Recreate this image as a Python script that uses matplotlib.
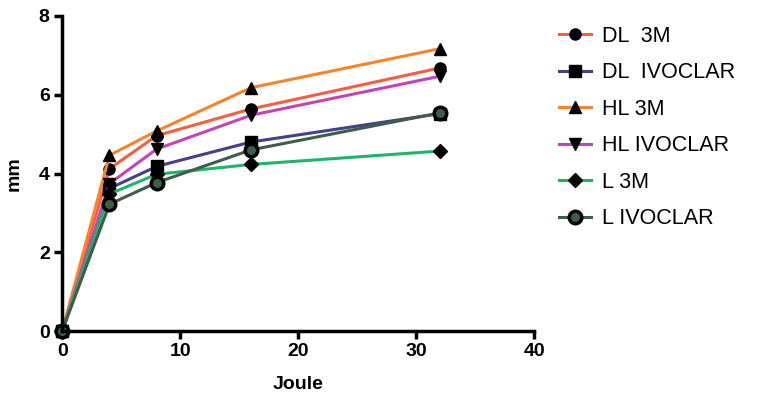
import matplotlib.pyplot as plt

plt.rcParams['font.family'] = ['Liberation Sans', 'DejaVu Sans']

joule = [0, 4, 8, 16, 32]

dl_3m = [0, 4.12, 4.96, 5.64, 6.68]
dl_ivoclar = [0, 3.62, 4.18, 4.80, 5.52]
hl_3m = [0, 4.46, 5.08, 6.18, 7.17]
hl_ivoclar = [0, 3.74, 4.62, 5.48, 6.47]
l_3m = [0, 3.48, 3.98, 4.23, 4.57]
l_ivoclar = [0, 3.22, 3.77, 4.60, 5.54]

labels = ['DL  3M', 'DL  IVOCLAR', 'HL 3M', 'HL IVOCLAR', 'L 3M', 'L IVOCLAR']
series = [dl_3m, dl_ivoclar, hl_3m, hl_ivoclar, l_3m, l_ivoclar]
colors = ['#f2603f', '#453f8f', '#f7832a', '#c444b8', '#1fb46a', '#3f5e4a']
markers = ['o', 's', '^', 'v', 'D', 'o']

fig = plt.figure(figsize=(7.59, 4.0), dpi=100)
ax = fig.add_axes([0.082, 0.1725, 0.622, 0.7875])

for vals, lab, col, mk in zip(series, labels, colors, markers):
    if lab == 'L IVOCLAR':
        ax.plot(joule, vals, color=col, lw=2.2, marker=mk, ms=9,
                mfc=col, mec='black', mew=2.5, label=lab)
    else:
        ms = 7 if mk == 'D' else 8
        ax.plot(joule, vals, color=col, lw=2.2, marker=mk, ms=ms,
                mfc='black', mec='black', label=lab)

ax.set_xlim(0, 40)
ax.set_ylim(0, 8)
ax.set_xticks([0, 10, 20, 30, 40])
ax.set_yticks([0, 2, 4, 6, 8])
for s in ['top', 'right']:
    ax.spines[s].set_visible(False)
for s in ['left', 'bottom']:
    ax.spines[s].set_linewidth(2.5)
ax.tick_params(width=2.5, length=6, labelsize=14, pad=3)
for t in ax.get_xticklabels() + ax.get_yticklabels():
    t.set_fontweight('bold')
ax.set_xlabel('Joule', fontsize=14, fontweight='bold', labelpad=11)
ax.set_ylabel('mm', fontsize=14, fontweight='bold', labelpad=12)
for ln in ax.lines:
    ln.set_clip_on(False)

ax.legend(loc='upper left', bbox_to_anchor=(1.012, 1.03), frameon=False,
          fontsize=15.5, handlelength=1.45, labelspacing=0.72, handletextpad=0.55)

fig.savefig('out.png', dpi=100)
